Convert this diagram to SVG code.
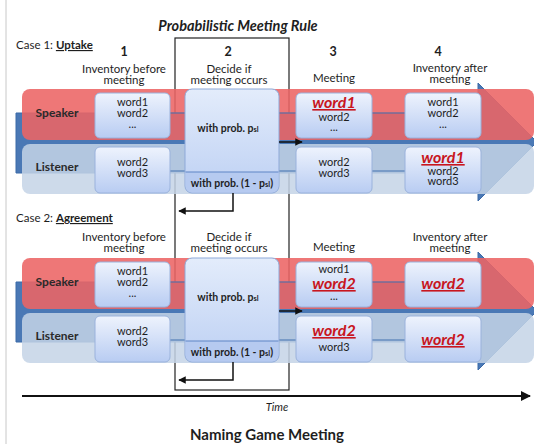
<svg xmlns="http://www.w3.org/2000/svg" width="534" height="444" viewBox="0 0 534 444">
  <defs>
    <linearGradient id="boxFill" x1="0" y1="0" x2="0" y2="1">
      <stop offset="0" stop-color="#EEF3FD"/>
      <stop offset="1" stop-color="#B8CCF2"/>
    </linearGradient>
    <linearGradient id="decFill" x1="0" y1="0" x2="0" y2="1">
      <stop offset="0" stop-color="#E3ECFB"/>
      <stop offset="1" stop-color="#BDD0F3"/>
    </linearGradient>
    <marker id="head" viewBox="0 0 10 10" refX="9" refY="5" markerWidth="5" markerHeight="5" orient="auto">
      <path d="M0,0 L10,5 L0,10 Z" fill="#111"/>
    </marker>
    <style>
      text { font-family: Lato, "Liberation Sans", sans-serif; fill: #1e1e1e; }
      .hdr { font-size: 11.5px; text-anchor: middle; }
      .num { font-size: 12.5px; font-weight: bold; text-anchor: middle; }
      .case { font-size: 11.5px; }
      .role { font-size: 12px; font-weight: bold; text-anchor: middle; fill: #2a2a2a; }
      .w { font-size: 11px; text-anchor: middle; }
      .hw { font-size: 16px; font-weight: bold; font-style: italic; text-anchor: middle; fill: #C8161E; text-decoration: underline; }
      .prob { font-size: 10.5px; font-weight: bold; text-anchor: middle; }
      .spk { fill: #EC6464; opacity: 0.88; }
      .lis { fill: #C4D3E6; opacity: 0.85; }
      .flow { fill: #4A78B5; stroke: #3A6AA8; stroke-width: 1; }
      .box { fill: url(#boxFill); stroke: #9AB2DC; stroke-width: 1; }
      .dec { fill: url(#decFill); stroke: #8EA9D8; stroke-width: 1; }
      .lower { fill: #B6CAF0; }
      .link { stroke: #4070B0; stroke-width: 1.2; fill: none; }
      .edge { stroke: #111; stroke-width: 1.5; fill: none; }
    </style>
  </defs>

  <rect width="534" height="444" fill="#fff"/>
  <line x1="6" y1="0" x2="6" y2="444" stroke="#c8c8c8" stroke-width="1"/>

  <!-- title and frame of the probabilistic step -->
  <text x="238" y="31" style="font-size:14.5px;font-weight:bold;font-style:italic" text-anchor="middle">Probabilistic Meeting Rule</text>
  <rect id="rule-frame" x="175" y="38" width="114" height="352" fill="none" stroke="#222" stroke-width="1.2"/>

  <!-- column headers, case 1 -->
  <text class="case" x="16" y="49">Case 1: <tspan font-weight="bold" text-decoration="underline">Uptake</tspan></text>
  <text class="num" x="124" y="56">1</text>
  <text class="num" x="228" y="56">2</text>
  <text class="num" x="333" y="56">3</text>
  <text class="num" x="438" y="56">4</text>
  <text class="hdr" x="124" y="73">Inventory before</text>
  <text class="hdr" x="124" y="84">meeting</text>
  <text class="hdr" x="229" y="73">Decide if</text>
  <text class="hdr" x="229" y="84">meeting occurs</text>
  <text class="hdr" x="334" y="82">Meeting</text>
  <text class="hdr" x="450" y="72">Inventory after</text>
  <text class="hdr" x="450" y="83">meeting</text>

  <!-- column headers, case 2 -->
  <text class="case" x="16" y="222">Case 2: <tspan font-weight="bold" text-decoration="underline">Agreement</tspan></text>
  <text class="hdr" x="124" y="241">Inventory before</text>
  <text class="hdr" x="124" y="252">meeting</text>
  <text class="hdr" x="229" y="241">Decide if</text>
  <text class="hdr" x="229" y="252">meeting occurs</text>
  <text class="hdr" x="334" y="251">Meeting</text>
  <text class="hdr" x="450" y="241">Inventory after</text>
  <text class="hdr" x="450" y="252">meeting</text>

  <!-- case 1: uptake -->
  <g id="case1">
    <g id="c1-flow"><polygon class="flow" points="16,113 478,113 478,83 537,142 478,201 478,173 16,173"/></g>
    <g id="c1-speaker"><rect class="spk" x="22" y="89" width="512" height="51" rx="8"/><text class="role" x="57" y="117">Speaker</text></g>
    <g id="c1-listener"><rect class="lis" x="22" y="144" width="512" height="50" rx="8"/><text class="role" x="57" y="171">Listener</text></g>
    <g id="c1-links">
      <line class="link" x1="170" y1="113" x2="405" y2="113"/>
      <line class="link" x1="170" y1="171" x2="405" y2="171"/>
    </g>
    <g id="c1-s-before"><rect class="box" x="95" y="93" width="75" height="45" rx="5"/>
      <text class="w" x="132.5" y="106">word1</text><text class="w" x="132.5" y="117">word2</text><text class="w" x="132.5" y="128">...</text></g>
    <g id="c1-l-before"><rect class="box" x="95" y="147" width="75" height="46" rx="5"/>
      <text class="w" x="132.5" y="166">word2</text><text class="w" x="132.5" y="177">word3</text></g>
    <g id="c1-decide"><rect class="dec" x="185" y="89" width="94" height="104" rx="7"/>
      <path class="lower" d="M185.5,172 H278.5 V186 a6.5,6.5 0 0 1 -6.5,6.5 H192 a6.5,6.5 0 0 1 -6.5,-6.5 Z"/>
      <line x1="185.5" y1="172" x2="278.5" y2="172" stroke="#5F85C5" stroke-width="1"/>
      <text class="prob" x="228" y="132">with prob. p<tspan font-size="7.5">sl</tspan></text>
      <text class="prob" x="232" y="187">with prob. (1 - p<tspan font-size="7.5">sl</tspan>)</text></g>
    <g id="c1-s-meet"><rect class="box" x="296" y="93" width="76" height="45" rx="5"/>
      <text class="hw" x="334" y="108">word1</text><text class="w" x="334" y="121">word2</text><text class="w" x="334" y="131">...</text></g>
    <g id="c1-l-meet"><rect class="box" x="296" y="147" width="76" height="46" rx="5"/>
      <text class="w" x="334" y="166">word2</text><text class="w" x="334" y="177">word3</text></g>
    <g id="c1-s-after"><rect class="box" x="405" y="93" width="76" height="45" rx="5"/>
      <text class="w" x="443" y="106">word1</text><text class="w" x="443" y="117">word2</text><text class="w" x="443" y="128">...</text></g>
    <g id="c1-l-after"><rect class="box" x="405" y="147" width="76" height="46" rx="5"/>
      <text class="hw" x="443" y="163">word1</text><text class="w" x="443" y="175">word2</text><text class="w" x="443" y="185">word3</text></g>
  </g>

  <!-- case 2: agreement -->
  <g id="case2" transform="translate(0,169)">
    <g id="c2-flow"><polygon class="flow" points="16,113 478,113 478,83 537,142 478,201 478,173 16,173"/></g>
    <g id="c2-speaker"><rect class="spk" x="22" y="89" width="512" height="51" rx="8"/><text class="role" x="57" y="117">Speaker</text></g>
    <g id="c2-listener"><rect class="lis" x="22" y="144" width="512" height="50" rx="8"/><text class="role" x="57" y="171">Listener</text></g>
    <g id="c2-links">
      <line class="link" x1="170" y1="113" x2="405" y2="113"/>
      <line class="link" x1="170" y1="171" x2="405" y2="171"/>
    </g>
    <g id="c2-s-before"><rect class="box" x="95" y="93" width="75" height="45" rx="5"/>
      <text class="w" x="132.5" y="106">word1</text><text class="w" x="132.5" y="117">word2</text><text class="w" x="132.5" y="128">...</text></g>
    <g id="c2-l-before"><rect class="box" x="95" y="147" width="75" height="46" rx="5"/>
      <text class="w" x="132.5" y="166">word2</text><text class="w" x="132.5" y="177">word3</text></g>
    <g id="c2-decide"><rect class="dec" x="185" y="89" width="94" height="104" rx="7"/>
      <path class="lower" d="M185.5,172 H278.5 V186 a6.5,6.5 0 0 1 -6.5,6.5 H192 a6.5,6.5 0 0 1 -6.5,-6.5 Z"/>
      <line x1="185.5" y1="172" x2="278.5" y2="172" stroke="#5F85C5" stroke-width="1"/>
      <text class="prob" x="228" y="132">with prob. p<tspan font-size="7.5">sl</tspan></text>
      <text class="prob" x="232" y="187">with prob. (1 - p<tspan font-size="7.5">sl</tspan>)</text></g>
    <g id="c2-s-meet"><rect class="box" x="296" y="93" width="76" height="45" rx="5"/>
      <text class="w" x="334" y="104">word1</text><text class="hw" x="334" y="120">word2</text><text class="w" x="334" y="131">...</text></g>
    <g id="c2-l-meet"><rect class="box" x="296" y="147" width="76" height="46" rx="5"/>
      <text class="hw" x="334" y="167">word2</text><text class="w" x="334" y="182">word3</text></g>
    <g id="c2-s-after"><rect class="box" x="405" y="93" width="76" height="45" rx="5"/>
      <text class="hw" x="443" y="120">word2</text></g>
    <g id="c2-l-after"><rect class="box" x="405" y="147" width="76" height="46" rx="5"/>
      <text class="hw" x="443" y="176">word2</text></g>
  </g>

  <!-- connectors -->
  <g id="connectors">
    <line class="edge" x1="279" y1="142" x2="302" y2="142" marker-end="url(#head)"/>
    <polyline class="edge" points="233,193 233,211 179,211" marker-end="url(#head)"/>
    <line class="edge" x1="279" y1="311" x2="302" y2="311" marker-end="url(#head)"/>
    <polyline class="edge" points="233,362 233,380 179,380" marker-end="url(#head)"/>
    <line x1="22" y1="396" x2="530" y2="396" stroke="#111" stroke-width="2" marker-end="url(#head)"/>
  </g>

  <text x="277" y="411" text-anchor="middle" style="font-size:11px;font-style:italic">Time</text>
  <text x="267" y="440" text-anchor="middle" style="font-size:15px;font-weight:bold">Naming Game Meeting</text>
</svg>
